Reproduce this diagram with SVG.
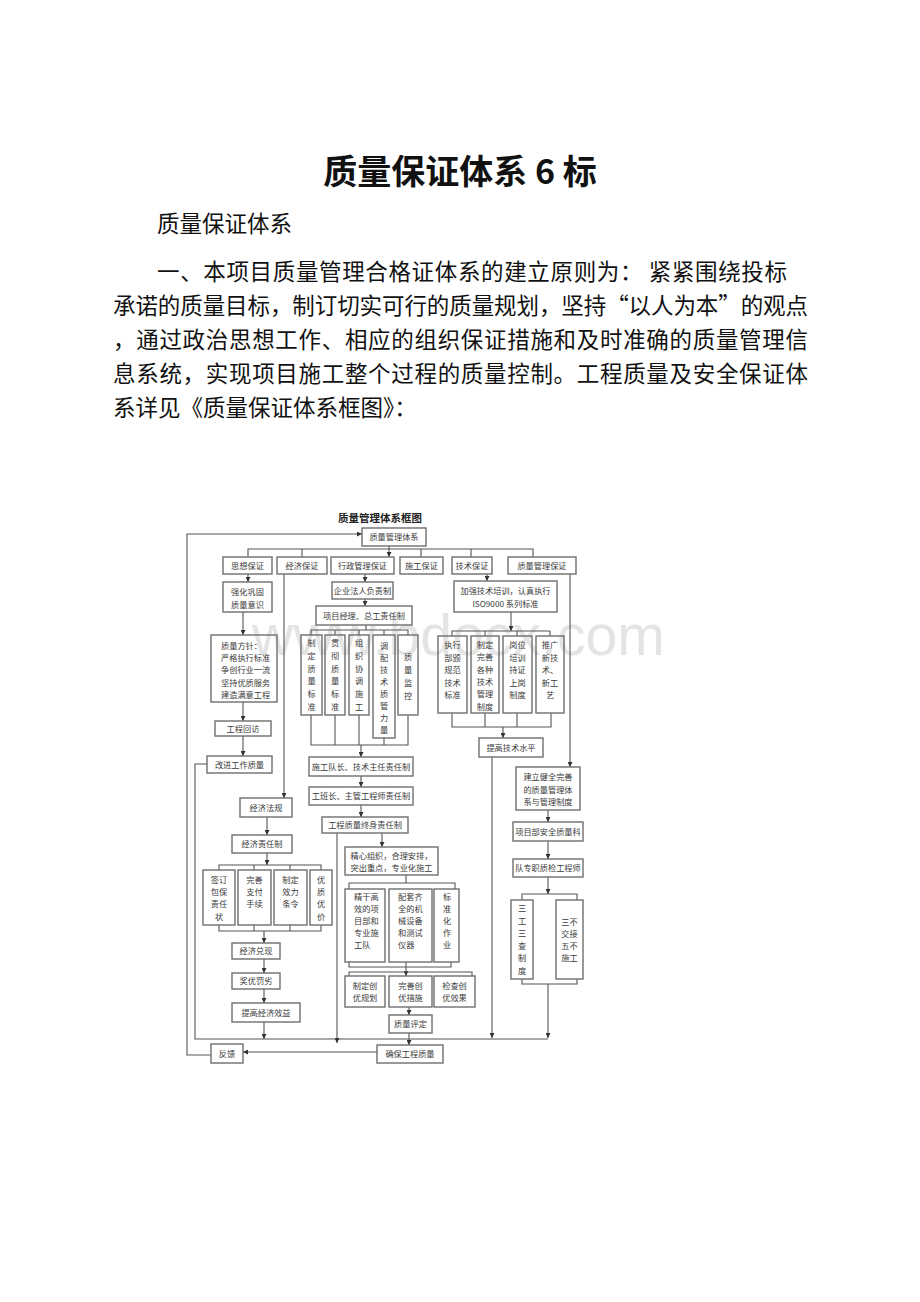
<svg xmlns="http://www.w3.org/2000/svg" width="920" height="1302" viewBox="0 0 920 1302">
<style>
.p{font-family:"Noto Sans CJK SC",sans-serif;font-size:22.5px;fill:#111}
.b{fill:none;stroke:#6e6e6e;stroke-width:1.4}
.t{font-family:"Noto Sans CJK SC",sans-serif;font-size:8.2px;fill:#3a3a3a;text-anchor:middle}
.l{text-anchor:start}
.c{fill:none;stroke:#555;stroke-width:1.1}
</style>
<defs>
<marker id="a" viewBox="0 0 6 6" refX="6" refY="3" markerWidth="5" markerHeight="5" orient="auto" markerUnits="userSpaceOnUse"><path d="M0,0L6,3L0,6z" fill="#333"/></marker>
</defs>
<rect width="920" height="1302" fill="#fff"/>
<text x="460" y="184" text-anchor="middle" style="font-family:'Noto Sans CJK SC',sans-serif;font-size:34px;font-weight:bold;fill:#111">质量保证体系 6 标</text>
<text class="p" x="157" y="232">质量保证体系</text>
<text class="p" x="157" y="280" textLength="630" lengthAdjust="spacing">一、本项目质量管理合格证体系的建立原则为： 紧紧围绕投标</text>
<text class="p" x="113" y="314" textLength="695" lengthAdjust="spacing">承诺的质量目标，制订切实可行的质量规划，坚持“以人为本”的观点</text>
<text class="p" x="113" y="348" textLength="695" lengthAdjust="spacing">，通过政治思想工作、相应的组织保证措施和及时准确的质量管理信</text>
<text class="p" x="113" y="382" textLength="695" lengthAdjust="spacing">息系统，实现项目施工整个过程的质量控制。工程质量及安全保证体</text>
<text class="p" x="113" y="416">系详见《质量保证体系框图》：</text>
<text x="252" y="655" textLength="413" lengthAdjust="spacingAndGlyphs" style="font-family:'Liberation Sans',sans-serif;font-size:57px;fill:#e4e4e4">www.bdocx.com</text>
<text x="380" y="522" text-anchor="middle" style="font-family:'Noto Sans CJK SC',sans-serif;font-size:10.5px;font-weight:bold;fill:#222">质量管理体系框图</text>
<g id="connectors">
<path class="c" d="M211,1055H187V534H362" marker-end="url(#a)"/>
<path class="c" d="M248,557V549H533V557M302,549V557M421,549V557M471,549V557"/>
<path class="c" d="M389,546V557" marker-end="url(#a)"/>
<path class="c" d="M248,574V582" marker-end="url(#a)"/>
<path class="c" d="M243,612V635" marker-end="url(#a)"/>
<path class="c" d="M243,702V721" marker-end="url(#a)"/>
<path class="c" d="M243,736V756" marker-end="url(#a)"/>
<path class="c" d="M207,764H195V1039H548"/>
<path class="c" d="M284,574V798" marker-end="url(#a)"/>
<path class="c" d="M267,817V835" marker-end="url(#a)"/>
<path class="c" d="M267,853V865" marker-end="url(#a)"/>
<path class="c" d="M219,870V865H321V870M254,865V870M290,865V870"/>
<path class="c" d="M219,925V931H321V925M254,925V931M290,925V931"/>
<path class="c" d="M264,931V943" marker-end="url(#a)"/>
<path class="c" d="M264,959V973" marker-end="url(#a)"/>
<path class="c" d="M264,989V1003" marker-end="url(#a)"/>
<path class="c" d="M264,1022V1039" marker-end="url(#a)"/>
<path class="c" d="M365,574V582" marker-end="url(#a)"/>
<path class="c" d="M365,599V606" marker-end="url(#a)"/>
<path class="c" d="M366,625V630M311,635V630H408V635M335,630V635M359,630V635M384,630V635"/>
<path class="c" d="M311,715V745H408V715M335,715V745M359,715V745M384,738V745"/>
<path class="c" d="M361,745V757" marker-end="url(#a)"/>
<path class="c" d="M361,776V787" marker-end="url(#a)"/>
<path class="c" d="M361,805V817" marker-end="url(#a)"/>
<path class="c" d="M337,833V1043" marker-end="url(#a)"/>
<path class="c" d="M382,833V847" marker-end="url(#a)"/>
<path class="c" d="M406,875V883M349,889V883H455V889"/>
<path class="c" d="M349,962V967H451V962"/>
<path class="c" d="M406,962V976" marker-end="url(#a)"/>
<path class="c" d="M349,976V972H472V976"/>
<path class="c" d="M409,1007V1015" marker-end="url(#a)"/>
<path class="c" d="M409,1033V1045" marker-end="url(#a)"/>
<path class="c" d="M377,1052H243" marker-end="url(#a)"/>
<path class="c" d="M487,574V581" marker-end="url(#a)"/>
<path class="c" d="M511,612V631" marker-end="url(#a)"/>
<path class="c" d="M452,636V631H550V636M485,631V636M517,631V636"/>
<path class="c" d="M452,713V727H551V713M485,713V727M517,713V727"/>
<path class="c" d="M503,727V738" marker-end="url(#a)"/>
<path class="c" d="M492,757V1038" marker-end="url(#a)"/>
<path class="c" d="M570,574V767" marker-end="url(#a)"/>
<path class="c" d="M548,810V822" marker-end="url(#a)"/>
<path class="c" d="M548,841V859" marker-end="url(#a)"/>
<path class="c" d="M548,877V894" marker-end="url(#a)"/>
<path class="c" d="M522,900V894H577V900"/>
<path class="c" d="M522,979V984H577V979"/>
<path class="c" d="M548,984V1038" marker-end="url(#a)"/>
</g>
<g id="n0"><rect class="b" x="362" y="528" width="64" height="18"/><text class="t" x="394" y="540">质量管理体系</text></g>
<g id="n1"><rect class="b" x="223" y="557" width="49" height="17"/><text class="t" x="247.5" y="568.5">思想保证</text></g>
<g id="n2"><rect class="b" x="277" y="557" width="50" height="17"/><text class="t" x="302" y="568.5">经济保证</text></g>
<g id="n3"><rect class="b" x="331" y="557" width="63" height="17"/><text class="t" x="362.5" y="568.5">行政管理保证</text></g>
<g id="n4"><rect class="b" x="400" y="557" width="43" height="17"/><text class="t" x="421.5" y="568.5">施工保证</text></g>
<g id="n5"><rect class="b" x="452" y="557" width="40" height="17"/><text class="t" x="472" y="568.5">技术保证</text></g>
<g id="n6"><rect class="b" x="508" y="557" width="68" height="17"/><text class="t" x="542" y="568.5">质量管理保证</text></g>
<g id="n7"><rect class="b" x="223" y="582" width="49" height="30"/><text class="t" x="247.5" y="595">强化巩固</text><text class="t" x="247.5" y="607.5">质量意识</text></g>
<g id="n8"><rect class="b" x="211" y="635" width="66" height="67"/><text class="t l" x="221" y="649">质量方针：</text><text class="t l" x="221" y="661.2">严格执行标准</text><text class="t l" x="221" y="673.4">争创行业一流</text><text class="t l" x="221" y="685.6">坚持优质服务</text><text class="t l" x="221" y="697.8">建造满意工程</text></g>
<g id="n9"><rect class="b" x="215" y="721" width="56" height="15"/><text class="t" x="243" y="731.5">工程回访</text></g>
<g id="n10"><rect class="b" x="207" y="756" width="65" height="17"/><text class="t" x="239.5" y="767.5">改进工作质量</text></g>
<g id="n11"><rect class="b" x="240" y="798" width="52" height="19"/><text class="t" x="266" y="810.5">经济法规</text></g>
<g id="n12"><rect class="b" x="232" y="835" width="60" height="18"/><text class="t" x="262" y="847">经济责任制</text></g>
<g id="n13"><rect class="b" x="203" y="870" width="32" height="55"/><text class="t" x="219" y="883">签订</text><text class="t" x="219" y="895.2">包保</text><text class="t" x="219" y="907.4">责任</text><text class="t" x="219" y="919.6">状</text></g>
<g id="n14"><rect class="b" x="238" y="870" width="33" height="55"/><text class="t" x="254.5" y="883">完善</text><text class="t" x="254.5" y="895.2">支付</text><text class="t" x="254.5" y="907.4">手续</text></g>
<g id="n15"><rect class="b" x="274" y="870" width="33" height="55"/><text class="t" x="290.5" y="883">制定</text><text class="t" x="290.5" y="895.2">效力</text><text class="t" x="290.5" y="907.4">条令</text></g>
<g id="n16"><rect class="b" x="310" y="870" width="22" height="55"/><text class="t" x="321" y="883">优</text><text class="t" x="321" y="895.2">质</text><text class="t" x="321" y="907.4">优</text><text class="t" x="321" y="919.6">价</text></g>
<g id="n17"><rect class="b" x="232" y="943" width="48" height="16"/><text class="t" x="256" y="954">经济兑现</text></g>
<g id="n18"><rect class="b" x="232" y="973" width="48" height="16"/><text class="t" x="256" y="984">奖优罚劣</text></g>
<g id="n19"><rect class="b" x="232" y="1003" width="68" height="19"/><text class="t" x="266" y="1015.5">提高经济效益</text></g>
<g id="n20"><rect class="b" x="332" y="582" width="61" height="17"/><text class="t" x="362.5" y="593.5">企业法人负责制</text></g>
<g id="n21"><rect class="b" x="316" y="606" width="96" height="19"/><text class="t" x="364" y="618.5">项目经理、总工责任制</text></g>
<g id="n22"><rect class="b" x="301" y="635" width="21" height="80"/><text class="t" x="311.5" y="646">制</text><text class="t" x="311.5" y="658.8">定</text><text class="t" x="311.5" y="671.6">质</text><text class="t" x="311.5" y="684.4">量</text><text class="t" x="311.5" y="697.2">标</text><text class="t" x="311.5" y="710">准</text></g>
<g id="n23"><rect class="b" x="325" y="635" width="20" height="80"/><text class="t" x="335" y="646">贯</text><text class="t" x="335" y="658.8">彻</text><text class="t" x="335" y="671.6">质</text><text class="t" x="335" y="684.4">量</text><text class="t" x="335" y="697.2">标</text><text class="t" x="335" y="710">准</text></g>
<g id="n24"><rect class="b" x="349" y="635" width="20" height="80"/><text class="t" x="359" y="646">组</text><text class="t" x="359" y="658.8">织</text><text class="t" x="359" y="671.6">协</text><text class="t" x="359" y="684.4">调</text><text class="t" x="359" y="697.2">施</text><text class="t" x="359" y="710">工</text></g>
<g id="n25"><rect class="b" x="373" y="635" width="22" height="103"/><text class="t" x="384" y="649">调</text><text class="t" x="384" y="661">配</text><text class="t" x="384" y="673">技</text><text class="t" x="384" y="685">术</text><text class="t" x="384" y="697">质</text><text class="t" x="384" y="709">管</text><text class="t" x="384" y="721">力</text><text class="t" x="384" y="733">量</text></g>
<g id="n26"><rect class="b" x="398" y="635" width="20" height="80"/><text class="t" x="408" y="660">质</text><text class="t" x="408" y="673">量</text><text class="t" x="408" y="686">监</text><text class="t" x="408" y="699">控</text></g>
<g id="n27"><rect class="b" x="309" y="757" width="104" height="19"/><text class="t" x="361" y="769.5">施工队长、技术主任责任制</text></g>
<g id="n28"><rect class="b" x="309" y="787" width="104" height="18"/><text class="t" x="361" y="799">工班长、主管工程师责任制</text></g>
<g id="n29"><rect class="b" x="322" y="817" width="86" height="16"/><text class="t" x="365" y="828">工程质量终身责任制</text></g>
<g id="n30"><rect class="b" x="345" y="847" width="93" height="28"/><text class="t" x="391.5" y="859">精心组织，合理安排，</text><text class="t" x="391.5" y="871">突出重点，专业化施工</text></g>
<g id="n31"><rect class="b" x="345" y="889" width="40" height="73"/><text class="t l" x="354" y="900">精干高</text><text class="t l" x="354" y="912">效的项</text><text class="t l" x="354" y="924">目部和</text><text class="t l" x="354" y="936">专业施</text><text class="t l" x="354" y="948">工队</text></g>
<g id="n32"><rect class="b" x="389" y="889" width="43" height="73"/><text class="t l" x="398" y="900">配套齐</text><text class="t l" x="398" y="912">全的机</text><text class="t l" x="398" y="924">械设备</text><text class="t l" x="398" y="936">和测试</text><text class="t l" x="398" y="948">仪器</text></g>
<g id="n33"><rect class="b" x="434" y="889" width="25" height="73"/><text class="t" x="447" y="900">标</text><text class="t" x="447" y="912">准</text><text class="t" x="447" y="924">化</text><text class="t" x="447" y="936">作</text><text class="t" x="447" y="948">业</text></g>
<g id="n34"><rect class="b" x="345" y="976" width="40" height="31"/><text class="t" x="365" y="988.5">制定创</text><text class="t" x="365" y="1000.5">优规划</text></g>
<g id="n35"><rect class="b" x="389" y="976" width="43" height="31"/><text class="t" x="410.5" y="988.5">完善创</text><text class="t" x="410.5" y="1000.5">优措施</text></g>
<g id="n36"><rect class="b" x="434" y="976" width="41" height="31"/><text class="t" x="454.5" y="988.5">检查创</text><text class="t" x="454.5" y="1000.5">优效果</text></g>
<g id="n37"><rect class="b" x="389" y="1015" width="43" height="18"/><text class="t" x="410.5" y="1027">质量评定</text></g>
<g id="n38"><rect class="b" x="377" y="1045" width="66" height="18"/><text class="t" x="410" y="1057">确保工程质量</text></g>
<g id="n39"><rect class="b" x="211" y="1044" width="32" height="19"/><text class="t" x="227" y="1056.5">反馈</text></g>
<g id="n40"><rect class="b" x="454" y="581" width="103" height="31"/><text class="t" x="505.5" y="594">加强技术培训，认真执行</text><text class="t" x="505.5" y="607">ISO9000 系列标准</text></g>
<g id="n41"><rect class="b" x="438" y="636" width="29" height="77"/><text class="t" x="452.5" y="648">执行</text><text class="t" x="452.5" y="660.5">部颁</text><text class="t" x="452.5" y="673">规范</text><text class="t" x="452.5" y="685.5">技术</text><text class="t" x="452.5" y="698">标准</text></g>
<g id="n42"><rect class="b" x="471" y="636" width="28" height="77"/><text class="t" x="485" y="648">制定</text><text class="t" x="485" y="660.3">完善</text><text class="t" x="485" y="672.6">各种</text><text class="t" x="485" y="684.9">技术</text><text class="t" x="485" y="697.2">管理</text><text class="t" x="485" y="709.5">制度</text></g>
<g id="n43"><rect class="b" x="503" y="636" width="29" height="77"/><text class="t" x="517.5" y="648">岗位</text><text class="t" x="517.5" y="660.5">培训</text><text class="t" x="517.5" y="673">持证</text><text class="t" x="517.5" y="685.5">上岗</text><text class="t" x="517.5" y="698">制度</text></g>
<g id="n44"><rect class="b" x="536" y="636" width="28" height="77"/><text class="t" x="550" y="648">推广</text><text class="t" x="550" y="660.5">新技</text><text class="t" x="550" y="673">术、</text><text class="t" x="550" y="685.5">新工</text><text class="t" x="550" y="698">艺</text></g>
<g id="n45"><rect class="b" x="479" y="738" width="64" height="19"/><text class="t" x="511" y="750.5">提高技术水平</text></g>
<g id="n46"><rect class="b" x="516" y="767" width="64" height="43"/><text class="t" x="548" y="780">建立健全完善</text><text class="t" x="548" y="792.5">的质量管理体</text><text class="t" x="548" y="805">系与管理制度</text></g>
<g id="n47"><rect class="b" x="513" y="822" width="70" height="19"/><text class="t" x="548" y="834.5">项目部安全质量科</text></g>
<g id="n48"><rect class="b" x="513" y="859" width="70" height="18"/><text class="t" x="548" y="871">队专职质检工程师</text></g>
<g id="n49"><rect class="b" x="511" y="900" width="22" height="79"/><text class="t" x="522" y="911">三</text><text class="t" x="522" y="923.6">工</text><text class="t" x="522" y="936.2">三</text><text class="t" x="522" y="948.8">查</text><text class="t" x="522" y="961.4">制</text><text class="t" x="522" y="974">度</text></g>
<g id="n50"><rect class="b" x="556" y="900" width="27" height="79"/><text class="t" x="569.5" y="924.5">三不</text><text class="t" x="569.5" y="936.5">交接</text><text class="t" x="569.5" y="948.5">五不</text><text class="t" x="569.5" y="960.5">施工</text></g>
</svg>
